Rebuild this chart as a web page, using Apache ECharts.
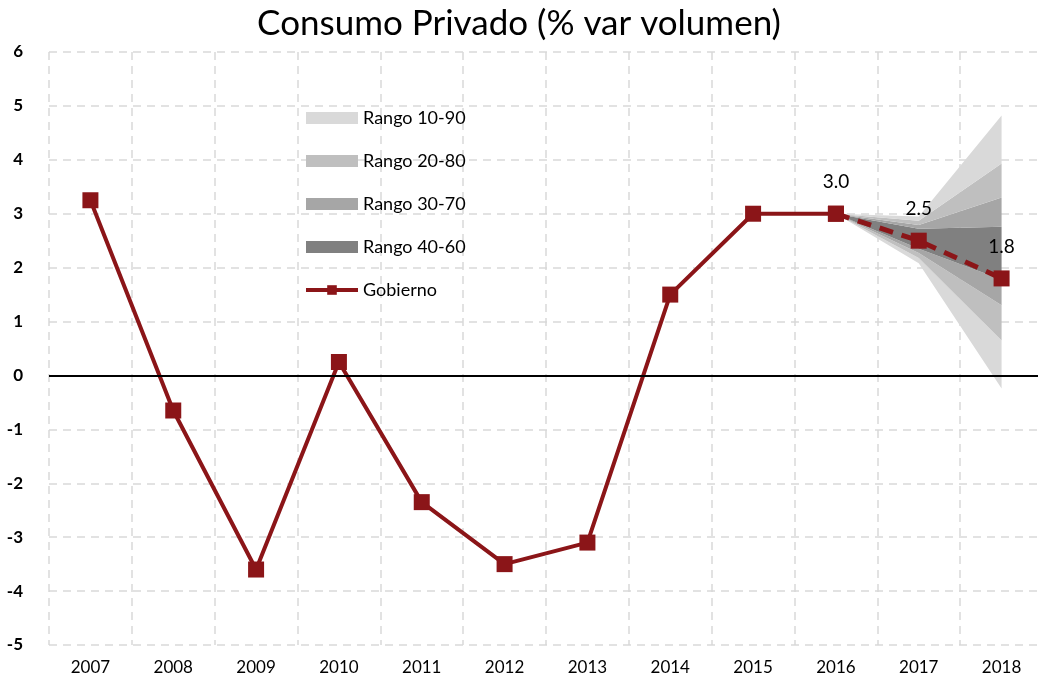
<!DOCTYPE html>
<html>
<head>
<meta charset="utf-8">
<script src="https://cdn.jsdelivr.net/npm/echarts@6/dist/echarts.min.js"></script>
<style>
  html, body { margin: 0; padding: 0; background: #fff; }
  #chart { width: 1038px; height: 686px; }
</style>
</head>
<body>
<div id="chart"></div>
<script>
// datos
var years = ["2007", "2008", "2009", "2010", "2011", "2012", "2013", "2014", "2015", "2016", "2017", "2018"];
var gobierno = [3.25, -0.65, -3.6, 0.25, -2.35, -3.5, -3.1, 1.5, 3.0, 3.0, "-", "-"];
var prevision = ["-", "-", "-", "-", "-", "-", "-", "-", "-", 3.0, 2.5, 1.8];
// percentiles del abanico (2016 = punto de partida)
var p10 = ["-", "-", "-", "-", "-", "-", "-", "-", "-", 3.0, 2.08, -0.24];
var p20 = ["-", "-", "-", "-", "-", "-", "-", "-", "-", 3.0, 2.18, 0.65];
var p30 = ["-", "-", "-", "-", "-", "-", "-", "-", "-", 3.0, 2.27, 1.3];
var p40 = ["-", "-", "-", "-", "-", "-", "-", "-", "-", 3.0, 2.35, 1.78];
var p60 = ["-", "-", "-", "-", "-", "-", "-", "-", "-", 3.0, 2.72, 2.76];
var p70 = ["-", "-", "-", "-", "-", "-", "-", "-", "-", 3.0, 2.79, 3.3];
var p80 = ["-", "-", "-", "-", "-", "-", "-", "-", "-", 3.0, 2.87, 3.93];
var p90 = ["-", "-", "-", "-", "-", "-", "-", "-", "-", 3.0, 2.95, 4.82];

var rojo = "#8b1518";
var font = "Lato";

// diferencia entre dos percentiles para apilar
function diff(a, b) {
  return a.map(function (v, i) {
    if (v === "-" || b[i] === "-") return "-";
    return +(v - b[i]).toFixed(3);
  });
}

function banda(name, data, color) {
  return {
    name: name,
    type: "line",
    stack: "fan",
    stackStrategy: "all",
    data: data,
    symbol: "none",
    lineStyle: { width: 0 },
    itemStyle: { color: color },
    areaStyle: { color: color, opacity: 1 },
    z: 1,
    silent: true,
  };
}

var myChart = echarts.init(document.getElementById("chart"));
var option = {
  animation: false,
  textStyle: { fontFamily: font },
  title: {
    text: "Consumo Privado (% var volumen)",
    left: "center",
    top: 1,
    textStyle: { fontFamily: font, fontSize: 35, fontWeight: "normal", color: "#000" },
  },
  legend: {
    orient: "vertical",
    left: 299,
    top: 104,
    itemWidth: 52,
    itemHeight: 12,
    itemGap: 25,
    textStyle: { fontFamily: font, fontSize: 18, color: "#000" },
    data: [
      { name: "Rango 10-90", icon: "rect" },
      { name: "Rango 20-80", icon: "rect" },
      { name: "Rango 30-70", icon: "rect" },
      { name: "Rango 40-60", icon: "rect" },
      { name: "Gobierno", lineStyle: { width: 4 } },
    ],
  },
  grid: { left: 49, width: 994, top: 52, bottom: 41, outerBoundsMode: "none", containLabel: false },
  xAxis: {
    type: "category",
    data: years,
    boundaryGap: true,
    axisLine: { show: false },
    axisTick: { show: false },
    axisLabel: { fontFamily: font, fontSize: 17, color: "#000", margin: 14 },
    splitLine: { show: true, lineStyle: { color: "#d9d9d9", type: [8, 6], width: 1.5 } },
  },
  yAxis: {
    type: "value",
    min: -5,
    max: 6,
    interval: 1,
    axisLine: { show: false },
    axisTick: { show: false },
    axisLabel: { fontFamily: font, fontSize: 17, color: "#000", margin: 26, fontWeight: "bold" },
    splitLine: { show: true, lineStyle: { color: "#d9d9d9", type: [8, 6], width: 1.5 } },
  },
  series: [
    {
      name: "base",
      type: "line",
      stack: "fan",
      stackStrategy: "all",
      data: p10,
      symbol: "none",
      lineStyle: { width: 0 },
      silent: true,
    },
    banda("Rango 10-90", diff(p20, p10), "#d9d9d9"),
    banda("Rango 20-80", diff(p30, p20), "#bfbfbf"),
    banda("Rango 30-70", diff(p40, p30), "#a6a6a6"),
    banda("Rango 40-60", diff(p60, p40), "#808080"),
    banda("Rango 30-70", diff(p70, p60), "#a6a6a6"),
    banda("Rango 20-80", diff(p80, p70), "#bfbfbf"),
    banda("Rango 10-90", diff(p90, p80), "#d9d9d9"),
    {
      name: "Gobierno",
      type: "line",
      data: gobierno,
      symbol: "rect",
      symbolSize: 16,
      lineStyle: { color: rojo, width: 4 },
      itemStyle: { color: rojo },
      z: 5,
      markLine: {
        silent: true,
        symbol: "none",
        label: { show: false },
        lineStyle: { color: "#000", type: "solid", width: 2 },
        data: [{ yAxis: 0 }],
        z: 6,
      },
    },
    {
      name: "Previsión",
      type: "line",
      data: prevision,
      symbol: "rect",
      symbolSize: 16,
      lineStyle: { color: rojo, width: 5, type: [14, 9] },
      itemStyle: { color: rojo },
      z: 5,
      label: {
        show: true,
        position: "top",
        distance: 14,
        fontFamily: font,
        fontSize: 19,
        color: "#000",
        formatter: function (p) {
          return Number(p.value).toFixed(1);
        },
      },
    },
  ],
};
option && myChart.setOption(option);
window.addEventListener("resize", function () {
  myChart.resize();
});
</script>
</body>
</html>
